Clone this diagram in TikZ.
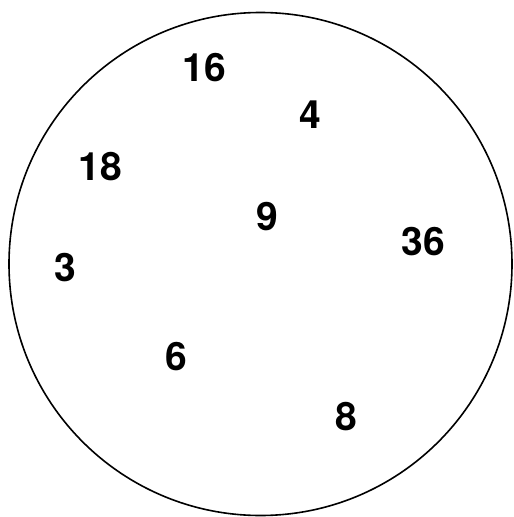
\documentclass[tikz,border=0pt]{standalone}
\usepackage{fontspec}
\setmainfont{TeX Gyre Heros}
\usepackage{tikz}
\usetikzlibrary{positioning}

\begin{document}
\begin{tikzpicture}[x=1pt,y=-1pt,
    num/.style={inner sep=0pt,font=\fontsize{39}{39}\selectfont\bfseries}]
  % page size
  \useasboundingbox (0,0) rectangle (514,517);
  % the circle
  \draw[line width=1.6pt] (260.5,264) circle (251.5);
  % the numbers
  \node[num] (n16) at (204,68) {16};
  \node[num] (n4) at (310,115) {4};
  \node[num] (n18) at (100,167) {18};
  \node[num] (n9) at (267,217) {9};
  \node[num] (n36) at (423,242) {36};
  \node[num] (n3) at (65,268) {3};
  \node[num] (n6) at (176,357) {6};
  \node[num] (n8) at (346,417) {8};
\end{tikzpicture}
\end{document}
